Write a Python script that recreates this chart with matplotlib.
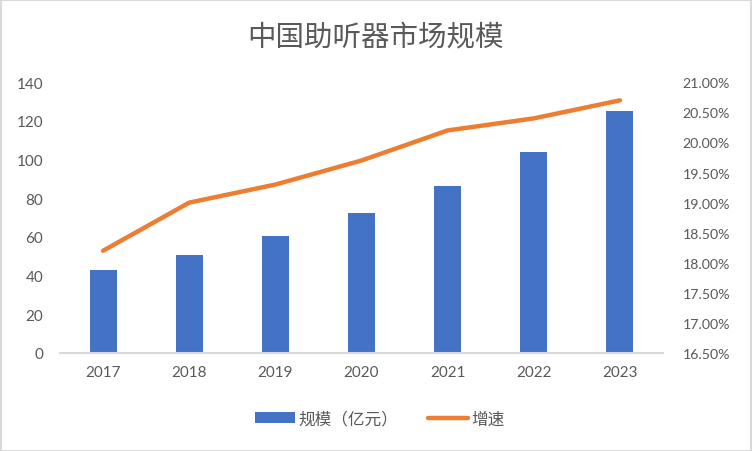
import matplotlib
matplotlib.use("Agg")
import matplotlib.pyplot as plt
from matplotlib.patches import Rectangle, Patch
from matplotlib.lines import Line2D
from matplotlib.ticker import FuncFormatter, MultipleLocator

plt.rcParams['font.family'] = ['Lato', 'Noto Sans CJK SC', 'DejaVu Sans']

years = ['2017', '2018', '2019', '2020', '2021', '2022', '2023']
scale = [42.9, 50.7, 60.5, 72.4, 86.4, 104.0, 125.2]
growth = [18.2, 19.0, 19.3, 19.7, 20.2, 20.4, 20.7]

title = '中国助听器市场规模'
bar_label = '规模（亿元）'
line_label = '增速'

blue = '#4472C4'
orange = '#ED7D31'
txt = '#595959'
grid = '#D9D9D9'

W, H = 752, 452
fig = plt.figure(figsize=(W / 100, H / 100), dpi=100)
ax = fig.add_axes([60 / W, (H - 354) / H, 603 / W, (354 - 83.3) / H])
x = list(range(len(years)))
ax.bar(x, scale, width=0.315, color=blue, zorder=2)
ax.set_xlim(-0.5, len(years) - 0.5)
ax.set_ylim(0, 140)
ax.yaxis.set_major_locator(MultipleLocator(20))
ax.set_xticks(x)
ax.set_xticklabels(years)
for s in ['top', 'right', 'left']:
    ax.spines[s].set_visible(False)
ax.spines['bottom'].set_color(grid)
ax.spines['bottom'].set_linewidth(1.5)
ax.tick_params(axis='both', length=0, colors=txt, labelsize=11)
ax.tick_params(axis='y', pad=12)
ax.tick_params(axis='x', pad=9)

ax2 = ax.twinx()
ax2.plot(x, growth, color=orange, linewidth=3.2, solid_capstyle='round', zorder=3)
ax2.set_ylim(16.5, 21.0)
ax2.yaxis.set_major_locator(MultipleLocator(0.5))
ax2.yaxis.set_major_formatter(FuncFormatter(lambda v, p: f'{v:.2f}%'))
for s in ['top', 'right', 'left', 'bottom']:
    ax2.spines[s].set_visible(False)
ax2.tick_params(axis='y', length=0, colors=txt, labelsize=10.2, pad=14)

fig.text(376 / W, 1 - 37 / H, title, ha='center', va='center', fontsize=20.5,
         color=txt, family=['Noto Sans CJK SC', 'DejaVu Sans'])

handles = [Patch(facecolor=blue, edgecolor='none'),
           Line2D([0], [0], color=orange, linewidth=3.2, solid_capstyle='round')]
leg = fig.legend(handles, [bar_label, line_label], loc='center',
                 bbox_to_anchor=(380 / W, 1 - 420 / H), ncol=2, frameon=False,
                 prop={'family': ['Noto Sans CJK SC', 'DejaVu Sans'], 'size': 12},
                 handlelength=2.4, handleheight=0.6, columnspacing=1.8, handletextpad=0.2)
for t in leg.get_texts():
    t.set_color(txt)

fig.patches.append(Rectangle((0.5 / W, 0.5 / H), 1 - 1.5 / W, 1 - 1.5 / H,
                             transform=fig.transFigure, fill=False,
                             edgecolor=grid, linewidth=1.5))

fig.savefig('out.png', dpi=100, facecolor='white')
